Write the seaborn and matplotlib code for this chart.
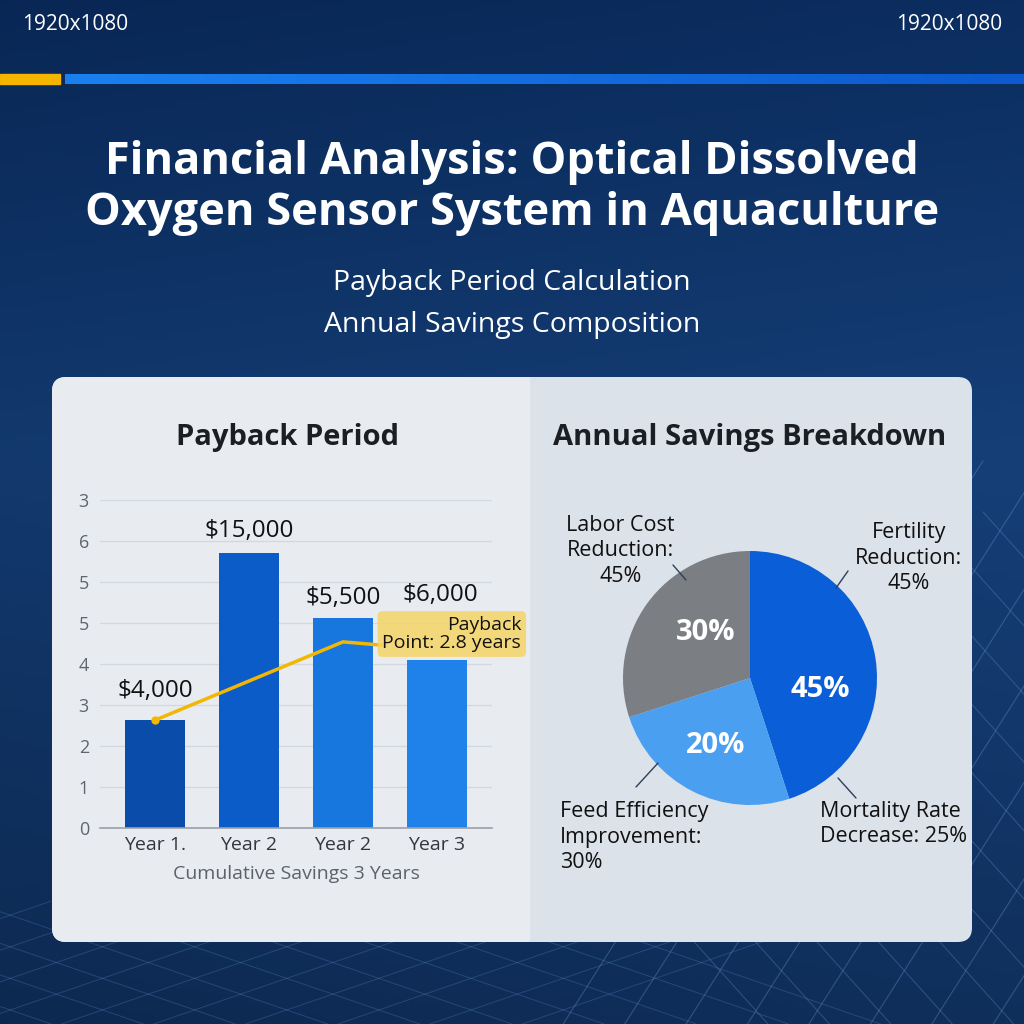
import numpy as np
import matplotlib
matplotlib.use("Agg")
import matplotlib.pyplot as plt
from matplotlib.patches import FancyBboxPatch, Rectangle
import seaborn as sns

# ---------------- data ----------------
bar_keys = ["y1", "y2", "y3", "y4"]
bar_ticklabels = ["Year 1.", "Year 2", "Year 2", "Year 3"]
bar_values = [2.63, 6.7, 5.12, 4.1]
bar_value_labels = ["$4,000", "$15,000", "$5,500", "$6,000"]
bar_colors = ["#0a4ca9", "#0b5bc9", "#1877df", "#1f81ea"]
y_ticks = [0, 1, 2, 3, 4, 5, 6, 7, 8]
y_ticklabels = ["0", "1", "2", "3", "4", "5", "5", "6", "3"]
line_x = [0, 2, 2.41]
line_y = [2.63, 4.54, 4.46]

pie_values = [45, 25, 30]
pie_labels = ["45%", "20%", "30%"]
pie_colors = ["#0a5fd8", "#4a9ff0", "#7b7e83"]

# ---------------- setup ----------------
sns.set_theme(style="white")
plt.rcParams['font.family'] = ['Open Sans', 'DejaVu Sans']

W = H = 1024
fig = plt.figure(figsize=(10.24, 10.24), dpi=100)

def P(x, y):
    return x / W, 1 - y / H

# background gradient
bg = fig.add_axes([0, 0, 1, 1])
bg.set_axis_off()
yy, xx = np.mgrid[0:1:200j, 0:1:200j]
top = np.array([10, 42, 90]) / 255
mid = np.array([20, 60, 115]) / 255
bot = np.array([14, 44, 86]) / 255
t = yy[..., None]
img = np.where(t < 0.45, top + (mid - top) * (t / 0.45), mid + (bot - mid) * ((t - 0.45) / 0.55))
img = img + 0.04 * (xx[..., None] - 0.5) * np.array([0.3, 0.6, 1.0])
img = np.clip(img, 0, 1)
bg.imshow(img, extent=[0, 1, 0, 1], aspect='auto', origin='upper')

# decorative grid lines (lower area)
for k in range(12):
    x0 = 0.55 + k * 0.06
    bg.plot([x0, x0 + 0.35], [0.0, 0.55], color="#6f9bd6", lw=0.8, alpha=0.35)
    bg.plot([x0 + 0.2, x0 - 0.25], [0.0, 0.5], color="#6f9bd6", lw=0.8, alpha=0.3)
for k in range(10):
    x0 = -0.3 + k * 0.09
    bg.plot([x0, x0 + 0.35], [0.0, 0.12], color="#6f9bd6", lw=0.7, alpha=0.25)
    bg.plot([x0 + 0.35, x0], [0.0, 0.12], color="#6f9bd6", lw=0.7, alpha=0.25)
bg.set_xlim(0, 1); bg.set_ylim(0, 1)

# header bars
fig.add_artist(Rectangle(P(0, 84), 60 / W, 10 / H, transform=fig.transFigure, color="#f4b400", zorder=2))
grad = np.linspace(0, 1, 256)[None, :, None]
c0 = np.array([26, 128, 240]) / 255
c1 = np.array([12, 90, 205]) / 255
bar_img = c0 + (c1 - c0) * grad
bg.imshow(bar_img, extent=[65 / W, 1, 1 - 84 / H, 1 - 74 / H], aspect='auto', zorder=2)
bg.set_xlim(0, 1); bg.set_ylim(0, 1)

fig.text(*P(22, 25), "1920x1080", color="white", fontsize=15, ha="left", va="center")
fig.text(*P(1002, 25), "1920x1080", color="white", fontsize=15, ha="right", va="center")

fig.text(*P(512, 188), "Financial Analysis: Optical Dissolved\nOxygen Sensor System in Aquaculture",
         color="white", fontsize=32.5, fontweight="bold", ha="center", va="center", linespacing=1.2)
fig.text(*P(512, 283), "Payback Period Calculation", color="white", fontsize=20.5, ha="center", va="center")
fig.text(*P(512, 325), "Annual Savings Composition", color="white", fontsize=20.5, ha="center", va="center")

# panel
px0, py0, px1, py1 = 52, 377, 972, 942
fig.add_artist(FancyBboxPatch(P(px0, py1), (px1 - px0) / W, (py1 - py0) / H,
                              boxstyle="round,pad=0,rounding_size=0.014", transform=fig.transFigure,
                              facecolor="#dce2ea", edgecolor="none", zorder=3))
fig.add_artist(FancyBboxPatch(P(px0, py1), (560 - px0) / W, (py1 - py0) / H,
                              boxstyle="round,pad=0,rounding_size=0.014", transform=fig.transFigure,
                              facecolor="#e8ecf1", edgecolor="none", zorder=3))
fig.add_artist(Rectangle(P(530, py1), 40 / W, (py1 - py0) / H, transform=fig.transFigure,
                         facecolor="#dce2ea", edgecolor="none", zorder=3))

# ---------------- bar chart ----------------
ax = fig.add_axes([100 / W, 1 - 828 / H, 392 / W, 328 / H], zorder=5)
ax.patch.set_alpha(0)
sns.barplot(x=bar_keys, y=bar_values, hue=bar_keys, palette=bar_colors, legend=False,
            width=0.63, ax=ax, saturation=1, linewidth=0, edgecolor="none")
ax.set_xlim(-0.585, 3.585)
ax.set_ylim(0, 8.0)
ax.set_yticks(y_ticks)
ax.set_yticklabels(y_ticklabels, color="#5f656d", fontsize=13)
ax.set_xticks(range(len(bar_keys)))
ax.set_xticklabels(bar_ticklabels, color="#33373d", fontsize=14)
ax.tick_params(axis="y", length=0, pad=8)
ax.tick_params(axis="x", length=0, pad=6)
for yv in y_ticks[1:]:
    ax.axhline(yv, color="#d2d8df", lw=0.9, zorder=0)
for s in ["left", "right", "top"]:
    ax.spines[s].set_visible(False)
ax.spines["bottom"].set_color("#9aa0a8")
ax.spines["bottom"].set_linewidth(1.2)
ax.set_xlabel("Cumulative Savings 3 Years", color="#5d6268", fontsize=14, labelpad=8)
ax.set_ylabel("")

label_offsets = [0.72, 0.55, 0.5, 1.58]
for i, (v, lab) in enumerate(zip(bar_values, bar_value_labels)):
    ax.text(i + (0.03 if i == 3 else 0), v + label_offsets[i], lab, ha="center", va="center",
            fontsize=17.5, color="#111111", zorder=6)

sns.lineplot(x=line_x, y=line_y, ax=ax, color="#f2b705", lw=2.5, zorder=7)
ax.plot(line_x[0], line_y[0], marker="o", ms=5, color="#f2b705", zorder=8)
ax.text(2.42, 4.73, "Payback\nPoint: 2.8 years", ha="left", va="center", fontsize=14,
        multialignment="right", color="#111111", linespacing=1.0, zorder=9, clip_on=False,
        bbox=dict(boxstyle="round,pad=0.25", facecolor="#f6d566", edgecolor="none", alpha=0.85))

fig.text(*P(287, 437), "Payback Period", fontsize=21, fontweight="bold", color="#1b1f24",
         ha="center", va="center", zorder=6)

# ---------------- pie chart ----------------
cx, cy, r = 750, 678, 127
pax = fig.add_axes([(cx - r) / W, 1 - (cy + r) / H, 2 * r / W, 2 * r / H], zorder=5)
pax.pie(pie_values, colors=pie_colors, startangle=90, counterclock=False,
        wedgeprops=dict(linewidth=0))
pax.set_xlim(-1, 1); pax.set_ylim(-1, 1)
pax.set_aspect("equal")
pax.set_axis_off()
inner_pos = [(0.55, -0.09), (-0.27, -0.53), (-0.35, 0.36)]
for (x, y), lab in zip(inner_pos, pie_labels):
    pax.text(x, y, lab, color="white", fontsize=21, fontweight="bold", ha="center", va="center")

fig.text(*P(750, 437), "Annual Savings Breakdown", fontsize=21, fontweight="bold", color="#1b1f24",
         ha="center", va="center", zorder=6)

ext = [
    ((566, 551), "Labor Cost\nReduction:\n45%", "center", ((673, 565), (686, 580))),
    ((855, 558), "Fertility\nReduction:\n45%", "center", ((848, 571), (836, 588))),
    ((560, 837), "Feed Efficiency\nImprovement:\n30%", "left", ((636, 787), (658, 763))),
    ((820, 824), "Mortality Rate\nDecrease: 25%", "left", ((838, 778), (856, 798))),
]
for (x, y), txt, malign, ((lx0, ly0), (lx1, ly1)) in ext:
    fig.text(*P(x, y), txt, fontsize=15.5, color="#111111", ha="left", va="center", linespacing=1.3,
             zorder=6, multialignment=malign)
    fig.add_artist(plt.Line2D([lx0 / W, lx1 / W], [1 - ly0 / H, 1 - ly1 / H],
                              transform=fig.transFigure, color="#2c3e5a", lw=1, zorder=6))

fig.savefig("out.png", dpi=100)
